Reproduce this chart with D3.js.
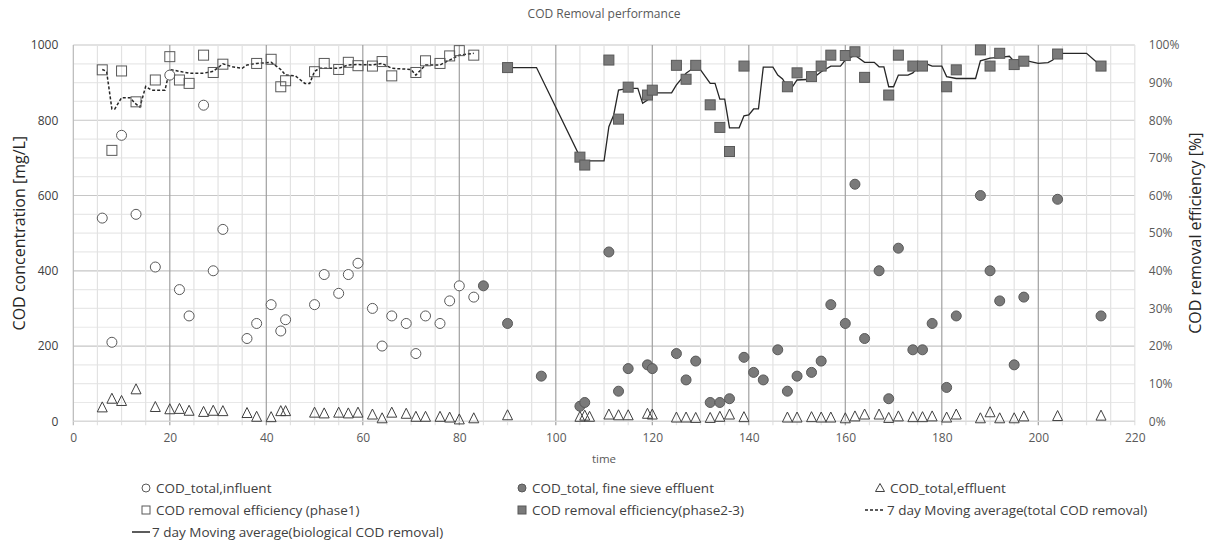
<!DOCTYPE html>
<html><head><meta charset="utf-8">
<script src="https://cdn.jsdelivr.net/npm/d3@7"></script>
<style>body{margin:0;background:#fff}svg{display:block}text{font-family:"Open Sans","Noto Sans",sans-serif}</style>
</head><body>
<svg id="chart" width="1215" height="543"></svg>
<script>
// ---- data ----
const influentDays = [6,8,10,13,17,20,22,24,27,29,31,36,38,41,43,44,50,52,55,57,59,62,64,66,69,71,73,76,78,80,83];
const influentCOD  = [540,210,760,550,410,920,350,280,840,400,510,220,260,310,240,270,310,390,340,390,420,300,200,280,260,180,280,260,320,360,330];

const sieveDays = [85,90,97,105,106,111,113,115,119,120,125,127,129,132,134,136,139,141,143,146,148,150,153,155,157,160,162,164,167,169,171,174,176,178,181,183,188,190,192,195,197,204,213];
const sieveCOD  = [360,260,120,40,50,450,80,140,150,140,180,110,160,50,50,60,170,130,110,190,80,120,130,160,310,260,630,220,400,60,460,190,190,260,90,280,600,400,320,150,330,590,280];

const effluentDays = [6,8,10,13,17,20,22,24,27,29,31,36,38,41,43,44,50,52,55,57,59,62,64,66,69,71,73,76,78,80,83,90,105,106,107,111,113,115,119,120,125,127,129,132,134,136,139,148,150,153,155,157,160,162,164,167,169,171,174,176,178,181,183,188,190,192,195,197,204,213];
const effluentCOD  = [37,60,54,85,38,32,33,28,25,28,27,22,12,11,27,27,23,21,23,21,23,18,8,23,20,12,12,12,10,5,8,16,12,15,12,18,16,16,20,18,10,10,9,9,12,18,11,10,10,11,10,10,8,13,18,18,9,13,11,11,13,10,18,8,24,8,8,13,14,15];

const eff1Days = [6,8,10,13,17,20,22,24,27,29,31,38,41,43,44,50,52,55,57,59,62,64,66,71,73,76,78,80,83];
const eff1Pct  = [93.4,72,93.1,84.9,90.7,96.9,90.7,89.8,97.3,92.7,94.9,95.1,96.2,88.9,90.5,92.9,95.1,93.5,95.4,94.5,94.4,95.6,91.8,92.7,95.8,95.1,97.1,98.5,97.3];

const eff23Days = [90,105,106,111,113,115,119,120,125,127,129,132,134,136,139,148,150,153,155,157,160,162,164,169,171,174,176,181,183,188,190,192,195,197,204,213];
const eff23Pct  = [94,70.2,68.1,96,80.3,88.8,86.7,88,94.6,90.9,94.6,84.1,78.1,71.7,94.4,88.9,92.6,91.6,94.4,97.3,97.2,98.2,91.4,86.7,97.3,94.4,94.4,88.9,93.4,98.7,94.4,97.8,94.8,95.7,97.6,94.4];

const maTotalDays = [6,6.9,8,8.6,10,11.75,12.8,13.8,15,16.2,19,20,22,24,27,29,31,33,35,36,38,41,43,44,46,48,49,50,51,55,57,59,62,64,66,70,71,73,76,78,80,83];
const maTotalPct  = [93.5,93,83,83,86,86,84.5,83.5,89,88,88,93.5,93,92.5,92.5,93,95,94.2,93.8,94.7,95.1,95.4,93.5,92,91.8,89.8,89.8,93,93.8,93.8,94.7,94.8,94.7,95.1,93.8,93.5,92,94.7,94.7,96,97.3,97.8];

const maBioDays = [90,96,105,106,110,111,112,113,115,117,118,119,120,124,125,127,128,130,132,133,134,135,136,138,139,140,141,142,143,145,146,147,148,149,150,153,155,157,159,160,162,164,166,167,168,169,170,171,173,174,176,178,180,181,183,187,188,190,192,194,195,196,197,200,202,203,204,210,213];
const maBioPct  = [94,94,70.3,69.2,69.2,78.3,81.4,88,88.5,88.5,84.5,85.4,87.3,87.3,89.4,92.5,93.4,93.4,89.8,89.8,85.6,85.6,78,78,81.2,81.4,83,83,94.1,94.1,92,91,88.8,88.8,90.7,90.9,92.9,94.4,94.4,96,97.3,95.4,95.4,94.2,94.2,88.9,88.9,92,92,92.6,95.4,94.4,94.4,91.6,91.1,91.1,95.8,96.5,96.7,97,95.6,96,96,95.1,95.3,96,97.8,97.8,94.4];

const xTicks = [0,20,40,60,80,100,120,140,160,180,200,220];
const yLeftTicks = [0,200,400,600,800,1000];
const yRightTicks = [0,10,20,30,40,50,60,70,80,90,100];

const titleText = "COD Removal performance";
const xLabel = "time";
const yLeftLabel = "COD concentration [mg/L]";
const yRightLabel = "COD removal efficiency [%]";
const legendItems = [
  {key:"inf", label:"COD_total,influent"},
  {key:"sieve", label:"COD_total, fine sieve effluent"},
  {key:"eff", label:"COD_total,effluent"},
  {key:"e1", label:"COD removal efficiency (phase1)"},
  {key:"e23", label:"COD removal efficiency(phase2-3)"},
  {key:"maT", label:"7 day Moving average(total COD removal)"},
  {key:"maB", label:"7 day Moving average(biological COD removal)"}
];

// ---- chart ----
const svg = d3.select("#chart");
const L = 73.3, R = 1134.8, T = 45, B = 421.3;
const x = d3.scaleLinear().domain([0,220]).range([L,R]);
const yL = d3.scaleLinear().domain([0,1000]).range([B,T]);
const yR = d3.scaleLinear().domain([0,100]).range([B,T]);

const textCol = "#595959";
const markStroke = "#595959";
const fillGray = "#7a7a7a";

// grid
const g = svg.append("g");
d3.range(0,1001,50).forEach(v=>{
  const major = v%200===0;
  g.append("line").attr("x1",L).attr("x2",R).attr("y1",yL(v)).attr("y2",yL(v))
   .attr("stroke", major? "#c6c6c6":"#e8e8e8").attr("stroke-width",1.2);
});
d3.range(0,221,5).forEach(v=>{
  const major = v%20===0;
  g.append("line").attr("x1",x(v)).attr("x2",x(v)).attr("y1",T).attr("y2",B+4)
   .attr("stroke", (major && v>0 && v<220)? "#a0a0a0" : (v===0? "#b8b8b8":"#e2e2e2")).attr("stroke-width",1.2);
});
g.append("line").attr("x1",L).attr("x2",R).attr("y1",B).attr("y2",B).attr("stroke","#d9d9d9").attr("stroke-width",1.2);

// axes
const ax = svg.append("g").attr("transform",`translate(0,${B})`)
  .call(d3.axisBottom(x).tickValues(xTicks).tickSize(0).tickPadding(12).tickFormat(d3.format("d")));
ax.select(".domain").remove();
ax.selectAll("text").attr("fill",textCol).style("font-size","12px").style("font-family","'Open Sans',sans-serif");

const ayl = svg.append("g").attr("transform",`translate(${L},0)`)
  .call(d3.axisLeft(yL).tickValues(yLeftTicks).tickSize(0).tickPadding(15).tickFormat(d3.format("d")));
ayl.select(".domain").remove();
ayl.selectAll("text").attr("fill","#404040").style("font-size","12px").style("font-family","'Open Sans',sans-serif");

const ayr = svg.append("g").attr("transform",`translate(${R},0)`)
  .call(d3.axisRight(yR).tickValues(yRightTicks).tickSize(0).tickPadding(14).tickFormat(d=>d+"%"));
ayr.select(".domain").remove();
ayr.selectAll("text").attr("fill",textCol).style("font-size","12px").style("font-family","'Open Sans',sans-serif");

// titles
svg.append("text").attr("x",604).attr("y",18).attr("text-anchor","middle").attr("fill",textCol)
  .style("font-size","12px").text(titleText);
svg.append("text").attr("x",604).attr("y",463).attr("text-anchor","middle").attr("fill",textCol)
  .style("font-size","11.5px").text(xLabel);
svg.append("text").attr("transform",`translate(25,${(T+B)/2}) rotate(-90)`).attr("text-anchor","middle")
  .attr("fill","#262626").style("font-size","16px").text(yLeftLabel);
svg.append("text").attr("transform",`translate(1201,${(T+B)/2}) rotate(-90)`).attr("text-anchor","middle")
  .attr("fill","#262626").style("font-size","16px").text(yRightLabel);

// markers
function circle(sel, cx, cy, filled){
  sel.append("circle").attr("cx",cx).attr("cy",cy).attr("r",5)
    .attr("fill",filled?fillGray:"#fff").attr("stroke",markStroke).attr("stroke-width",1);
}
function square(sel, cx, cy, filled, s=10){
  sel.append("rect").attr("x",cx-s/2).attr("y",cy-s/2).attr("width",s).attr("height",s)
    .attr("fill",filled?fillGray:"none").attr("stroke",markStroke).attr("stroke-width",1);
}
function tri(sel, cx, cy, s=10){
  const h = s*0.9;
  sel.append("path").attr("d",`M${cx},${cy-h/2-1}L${cx+s/2},${cy+h/2}L${cx-s/2},${cy+h/2}Z`)
    .attr("fill","none").attr("stroke","#404040").attr("stroke-width",1);
}

const m = svg.append("g");
const lineT = d3.line().x(d=>x(d[0])).y(d=>yR(d[1]));
m.append("path").attr("d", lineT(maTotalDays.map((d,i)=>[d,maTotalPct[i]])))
  .attr("fill","none").attr("stroke","#262626").attr("stroke-width",1.5).attr("stroke-dasharray","3,2");
m.append("path").attr("d", lineT(maBioDays.map((d,i)=>[d,maBioPct[i]])))
  .attr("fill","none").attr("stroke","#262626").attr("stroke-width",1.3);

influentDays.forEach((d,i)=>circle(m, x(d), yL(influentCOD[i]), false));
sieveDays.forEach((d,i)=>circle(m, x(d), yL(sieveCOD[i]), true));
effluentDays.forEach((d,i)=>tri(m, x(d), yL(effluentCOD[i])));
eff1Days.forEach((d,i)=>square(m, x(d), yR(eff1Pct[i]), false));
eff23Days.forEach((d,i)=>square(m, x(d), yR(eff23Pct[i]), true));

// legend
const lg = svg.append("g").style("font-size","13.5px");
const pos = [[146,488],[522,488],[880,488],[146,510],[522,510],[880,510],[146,532]];
legendItems.forEach((it,i)=>{
  const [px,py] = pos[i];
  const gg = lg.append("g");
  if(it.key==="inf"){ gg.append("circle").attr("cx",px).attr("cy",py).attr("r",4).attr("fill","#fff").attr("stroke",markStroke); }
  if(it.key==="sieve"){ gg.append("circle").attr("cx",px).attr("cy",py).attr("r",4).attr("fill",fillGray).attr("stroke",markStroke); }
  if(it.key==="eff"){ gg.append("path").attr("d",`M${px},${py-4.5}L${px+4.5},${py+3.5}L${px-4.5},${py+3.5}Z`).attr("fill","none").attr("stroke","#404040"); }
  if(it.key==="e1"){ gg.append("rect").attr("x",px-4).attr("y",py-4).attr("width",8).attr("height",8).attr("fill","none").attr("stroke",markStroke); }
  if(it.key==="e23"){ gg.append("rect").attr("x",px-4).attr("y",py-4).attr("width",8).attr("height",8).attr("fill",fillGray).attr("stroke",markStroke); }
  let tx = px+10;
  if(it.key==="maT"){ gg.append("line").attr("x1",px-15).attr("x2",px+5).attr("y1",py).attr("y2",py).attr("stroke","#262626").attr("stroke-width",1.5).attr("stroke-dasharray","3,2"); tx = px+7; }
  if(it.key==="maB"){ gg.append("line").attr("x1",px-14).attr("x2",px+4).attr("y1",py).attr("y2",py).attr("stroke","#262626").attr("stroke-width",1.5); tx = px+6; }
  gg.append("text").attr("x",tx).attr("y",py).attr("dy","0.35em").attr("fill","#404040").text(it.label);
});
</script>
</body></html>
